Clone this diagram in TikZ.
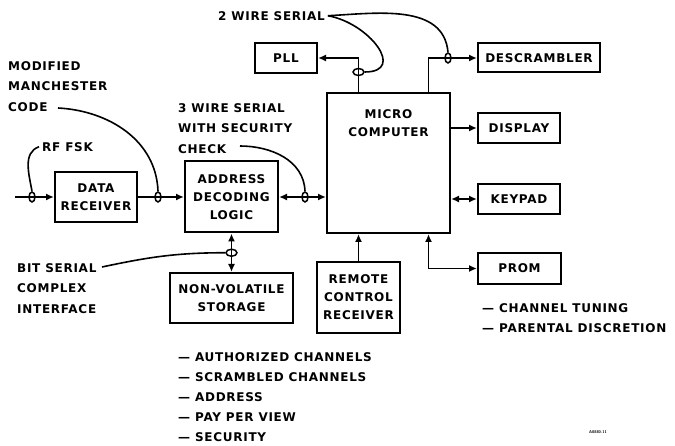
\documentclass[tikz,border=0pt]{standalone}
\usepackage{fontspec}
\usetikzlibrary{arrows.meta,shapes.geometric,calc}
\newfontfamily\diagfont[LetterSpace=6]{DejaVu Sans}

\tikzset{
	>={Latex[length=8pt,width=7pt]},
	blk/.style={draw, line width=2pt, inner sep=0pt, align=center,
		font=\diagfont\bfseries\fontsize{12}{18}\selectfont},
	lbl/.style={inner sep=0pt, anchor=north west, align=left,
		font=\diagfont\bfseries\fontsize{12}{20.5}\selectfont},
	wire/.style={line width=1.9pt},
	lead/.style={line width=1.6pt},
	taph/.style={draw, line width=1.5pt, ellipse, inner sep=0pt, minimum width=6pt, minimum height=10pt},
	tapv/.style={draw, line width=1.5pt, ellipse, inner sep=0pt, minimum width=11pt, minimum height=7pt},
}

\begin{document}
\begin{tikzpicture}[x=1pt, y=-1pt]
	\useasboundingbox (0,0) rectangle (675,446);
	
	% blocks
	\node[blk, minimum width=82pt, minimum height=50pt] (rx) at (96,197) {DATA\\RECEIVER};
	\node[blk, minimum width=93pt, minimum height=71pt] (adl) at (231.5,197) {ADDRESS\\DECODING\\LOGIC};
	\node[blk, minimum width=123pt, minimum height=140pt,
		label={[blk, draw=none, anchor=north, yshift=-17pt]north:{MICRO\\COMPUTER}}] (mc) at (388.5,163) {};
	\node[blk, minimum width=62pt, minimum height=30pt] (pll) at (286,58) {PLL};
	\node[blk, minimum width=122pt, minimum height=29pt] (desc) at (539,58) {DESCRAMBLER};
	\node[blk, minimum width=82pt, minimum height=30pt] (disp) at (519,128) {DISPLAY};
	\node[blk, minimum width=82pt, minimum height=30pt] (keypad) at (519,199) {KEYPAD};
	\node[blk, minimum width=83pt, minimum height=31pt] (prom) at (519.5,268.5) {PROM};
	\node[blk, minimum width=83pt, minimum height=71pt] (rcr) at (358.5,297.5) {REMOTE\\CONTROL\\RECEIVER};
	\node[blk, minimum width=123pt, minimum height=50pt] (nvs) at (231.5,298) {NON-VOLATILE\\STORAGE};
	
	\path (mc.north west) -- (mc.north east) coordinate[pos=0.26] (mcpll) coordinate[pos=0.82] (mcdes);
	\path (mc.south west) -- (mc.south east) coordinate[pos=0.82] (mcprom);
	\coordinate (inp) at (15,197);
	
	% buses
	\draw[wire, ->] (inp) -- (rx.west);
	\draw[wire, ->] (rx.east) -- (adl.west);
	\draw[wire, <->] (adl.east) -- (mc.west |- adl.east);
	\draw[wire, <->] (adl.south) -- (nvs.north);
	\draw[wire, ->] (mcpll) |- (pll.east);
	\draw[wire, ->] (mcdes) |- (desc.west);
	\draw[wire, ->] (mc.east |- disp.west) -- (disp.west);
	\draw[wire, <->] (mc.east |- keypad.west) -- (keypad.west);
	\draw[wire, ->] (rcr.north) -- (rcr.north |- mc.south);
	\draw[wire, <->] (mcprom) |- (prom.west);
	
	% taps on the buses
	\node[taph] (t1) at (32,197) {};
	\node[taph] (t2) at (158,197) {};
	\node[taph] (t3) at (305,197) {};
	\node[tapv] (t4) at ($(adl.south)!0.5!(nvs.north)$) {};
	\node[tapv] (t5) at (mcpll |- 0,72) {};
	\node[taph] (t6) at (448,58) {};
	
	% labels
	\node[lbl] (w2) at (218,11) {2 WIRE SERIAL};
	\node[lbl] (mmc) at (8,61) {MODIFIED\\MANCHESTER\\CODE};
	\node[lbl] (rf) at (42,142) {RF FSK};
	\node[lbl] (w3) at (178,103) {3 WIRE SERIAL\\WITH SECURITY\\CHECK};
	\node[lbl] (bit) at (17,263) {BIT SERIAL\\COMPLEX\\INTERFACE};
	\node[lbl, font=\diagfont\bfseries\fontsize{12}{20}\selectfont] (nvslist) at (178,352)
		{— AUTHORIZED CHANNELS\\— SCRAMBLED CHANNELS\\— ADDRESS\\— PAY PER VIEW\\— SECURITY};
	\node[lbl, font=\diagfont\bfseries\fontsize{12}{20}\selectfont] (promlist) at (482,303)
		{— CHANNEL TUNING\\— PARENTAL DISCRETION};
	\node[font=\sffamily\bfseries\fontsize{4}{5}\selectfont, inner sep=0pt] (tag) at (598,432) {A0880-11};
	
	\coordinate (mmcend) at (58,108);
	\coordinate (w3end) at (240,146);
	\coordinate (bitend) at (102,267);
	
	% leaders
	\draw[lead] ([xshift=3pt]w2.east) to[out=-10, in=0, looseness=1.6] (t5.east);
	\draw[lead] ([xshift=3pt]w2.east) to[out=3, in=95] (t6.north);
	\draw[lead] (mmcend) to[out=-3, in=92] (t2.north);
	\draw[lead] ([xshift=-3pt]rf.west) to[out=200, in=100] (t1.north);
	\draw[lead] (w3end) to[out=0, in=92] (t3.north);
	\draw[lead] (bitend) to[out=12, in=180] (t4.west);
	
\end{tikzpicture}
\end{document}
